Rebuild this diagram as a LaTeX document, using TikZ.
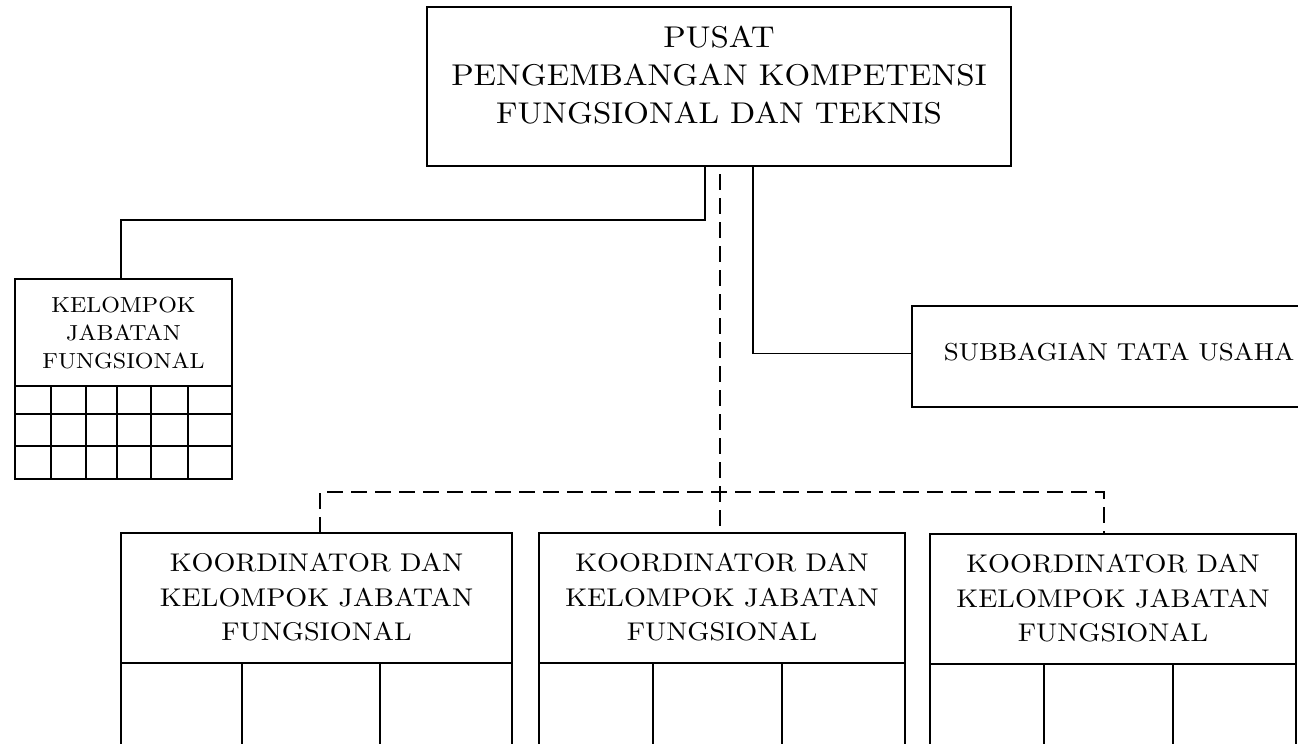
\documentclass[tikz,border=0pt]{standalone}
\usepackage{fontspec}
\setmainfont{lmroman10-regular.otf}[FakeStretch=1.1]
\begin{document}
\begin{tikzpicture}[x=1pt,y=-1pt,line width=1.7pt,
  box/.style={draw,inner sep=0pt,outer sep=0pt,anchor=north west},
  txt/.style={inner sep=0pt,outer sep=0pt,align=center,anchor=north},
  dashline/.style={dash pattern=on 16pt off 8pt},
  topfont/.style={font=\fontsize{30}{38}\selectfont},
  midfont/.style={font=\fontsize{25.6}{34.5}\selectfont},
  smallfont/.style={font=\fontsize{21.8}{28}\selectfont},
  subfont/.style={font=\fontsize{24.5}{30}\selectfont}]
\useasboundingbox (0,0) rectangle (1298,744);
% boxes
\node[box,minimum width=584pt,minimum height=159pt] (pusat) at (427,7) {};
\node[box,minimum width=217pt,minimum height=200pt] (kjf) at (15,279) {};
\node[box,minimum width=420pt,minimum height=101pt] (sub) at (912,306) {};
\node[box,minimum width=391pt,minimum height=230pt] (k1) at (121,533) {};
\node[box,minimum width=366pt,minimum height=230pt] (k2) at (539,533) {};
\node[box,minimum width=366pt,minimum height=230pt] (k3) at (930,534) {};
% texts
\node[txt,topfont] (tpusat) at (719,26.5) {PUSAT\\PENGEMBANGAN KOMPETENSI\\FUNGSIONAL DAN TEKNIS};
\node[txt,smallfont] (tkjf) at (123.5,297) {KELOMPOK\\JABATAN\\FUNGSIONAL};
\node[inner sep=0pt,anchor=base west,subfont] (tsub) at (943,360) {SUBBAGIAN TATA USAHA};
\node[txt,midfont] (tk1) at (316.5,553.5) {KOORDINATOR DAN\\KELOMPOK JABATAN\\FUNGSIONAL};
\node[txt,midfont] (tk2) at (722,553.5) {KOORDINATOR DAN\\KELOMPOK JABATAN\\FUNGSIONAL};
\node[txt,midfont] (tk3) at (1113,554.5) {KOORDINATOR DAN\\KELOMPOK JABATAN\\FUNGSIONAL};
% grid of kelompok jabatan fungsional
\foreach \yy in {386,414,446} \draw (15,\yy) -- (232,\yy);
\foreach \xx in {51,86,117,151,188} \draw (\xx,386) -- (\xx,479);
% inner cells of the bottom boxes
\draw (121,663) -- (512,663) (242,663) -- (242,763) (380,663) -- (380,763);
\draw (539,663) -- (905,663) (653,663) -- (653,763) (782,663) -- (782,763);
\draw (930,664) -- (1296,664) (1044,664) -- (1044,764) (1173,664) -- (1173,764);
% connectors
\draw ([xshift=-14pt]pusat.south) -- ++(0,54) -| ([xshift=-2.5pt]kjf.north);
\draw ([xshift=34pt]pusat.south) |- ([yshift=3pt]sub.west);
\draw[dashline,dash phase=16pt] ([xshift=1pt]pusat.south) -- ([xshift=1pt]pusat.south |- k2.north);
\draw[dashline] ([xshift=3.5pt]k1.north) -- ++(0,-41) -| ([xshift=-9pt]k3.north);
\end{tikzpicture}
\end{document}
